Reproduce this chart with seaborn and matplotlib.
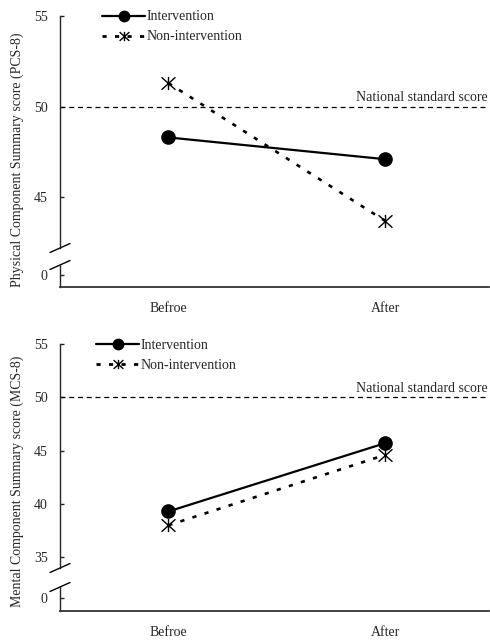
import numpy as np
import pandas as pd
import matplotlib
matplotlib.use('Agg')
import matplotlib.pyplot as plt
from matplotlib.lines import Line2D
from matplotlib.path import Path
import seaborn as sns

phases = ['Befroe', 'After']
groups = ['Intervention', 'Non-intervention']
pcs_intervention = [48.3, 47.1]
pcs_non_intervention = [51.3, 43.7]
mcs_intervention = [39.3, 45.7]
mcs_non_intervention = [38.0, 44.6]
national_standard = 50
pcs_ticks = [45, 50, 55]
mcs_ticks = [35, 40, 45, 50, 55]

sns.set_style('ticks')
plt.rcParams['font.family'] = ['Liberation Serif', 'DejaVu Serif']
plt.rcParams['font.size'] = 10

# asterisk: vertical bar plus a wide X
star = Path([(0, -0.95), (0, 0.95), (-1, -0.9), (1, 0.9), (-1, 0.9), (1, -0.9)],
            [Path.MOVETO, Path.LINETO, Path.MOVETO, Path.LINETO, Path.MOVETO, Path.LINETO])
group_style = {
    'Intervention': dict(marker='o', ls='-', lw=1.6, markersize=9.5, mfc='black'),
    'Non-intervention': dict(marker=star, ls=(0, (1.6, 3.2)), lw=1.9, markersize=10, mfc='none'),
}


def make_df(a, b):
    return pd.DataFrame({
        'phase': phases * 2,
        'score': a + b,
        'group': [groups[0]] * 2 + [groups[1]] * 2,
    })


fig = plt.figure(figsize=(4.9, 6.4), dpi=100)
W, H = 490, 640


def px_axes(left, top, right, bottom):
    return [left / W, 1 - bottom / H, (right - left) / W, (bottom - top) / H]


panels = [
    dict(df=make_df(pcs_intervention, pcs_non_intervention), ylim=(42.2, 55), ticks=pcs_ticks,
         main=(60, 16, 489, 248), small=(60, 265, 489, 287),
         ylabel='Physical Component Summary score (PCS-8)', ylab_y=160, leg_x=102, leg_y=1.024),
    dict(df=make_df(mcs_intervention, mcs_non_intervention), ylim=(34.0, 55), ticks=mcs_ticks,
         main=(60, 344, 489, 568), small=(60, 587, 489, 611),
         ylabel='Mental Component Summary score (MCS-8)', ylab_y=481, leg_x=96, leg_y=1.022),
]

for p in panels:
    ax = fig.add_axes(px_axes(*p['main']))
    axz = fig.add_axes(px_axes(*p['small']))

    for g in groups:
        st = group_style[g]
        sns.lineplot(data=p['df'][p['df']['group'] == g], x='phase', y='score',
                     color='black', marker=st['marker'], linestyle=st['ls'], linewidth=st['lw'],
                     markersize=st['markersize'], markerfacecolor=st['mfc'],
                     markeredgecolor='black', markeredgewidth=1.0, ax=ax)

    ax.axhline(national_standard, color='black', lw=0.9, ls=(0, (4, 3)))
    ax.annotate('National standard score', xy=(0.997, national_standard),
                xycoords=('axes fraction', 'data'), xytext=(0, 2), textcoords='offset points',
                ha='right', va='bottom')

    for a in (ax, axz):
        a.set_xlim(-0.5, 1.48)
        a.spines['right'].set_visible(False)
        a.spines['top'].set_visible(False)
        a.spines['left'].set_linewidth(1.0)
        a.tick_params(axis='y', direction='in', length=3, width=1.0, pad=9)
        a.set_xlabel('')
        a.set_ylabel('')

    ax.set_ylim(*p['ylim'])
    ax.set_yticks(p['ticks'])
    ax.spines['bottom'].set_visible(False)
    ax.set_xticks([])

    axz.set_ylim(-1, 0.85)
    axz.set_yticks([0])
    axz.set_yticklabels(['0'])
    axz.set_xticks([0, 1])
    axz.set_xticklabels(phases)
    axz.tick_params(axis='x', length=0, pad=11)
    axz.spines['bottom'].set_linewidth(1.3)
    axz.spines['bottom'].set_color('#333333')
    axz.patch.set_alpha(0)

    # break marks on the y axis
    for a, yy, hpx in ((ax, 0.0, p['main'][3] - p['main'][1]), (axz, 1.0, p['small'][3] - p['small'][1])):
        d = 4.5 / hpx
        a.plot([-10 / 429, 10 / 429], [yy - d, yy + d],
               transform=a.transAxes, color='black', lw=1.0, clip_on=False)

    handles = [
        Line2D([], [], color='black', lw=1.6, marker='o', markersize=7.5),
        Line2D([], [], color='black', lw=2.0, ls=(0, (1.5, 3.0)), marker=star, mfc='none',
               markersize=7, markeredgewidth=1.0),
    ]
    ax.legend(handles, groups, loc='upper left', frameon=False,
              bbox_to_anchor=((p['leg_x'] - p['main'][0]) / (p['main'][2] - p['main'][0]), p['leg_y']),
              handlelength=3.1, handletextpad=0.12, labelspacing=0.5, borderaxespad=0,
              borderpad=0, fontsize=10)

    fig.text(17 / W, 1 - p['ylab_y'] / H, p['ylabel'], rotation=90, ha='center', va='center')

fig.savefig('out.png', dpi=100)
